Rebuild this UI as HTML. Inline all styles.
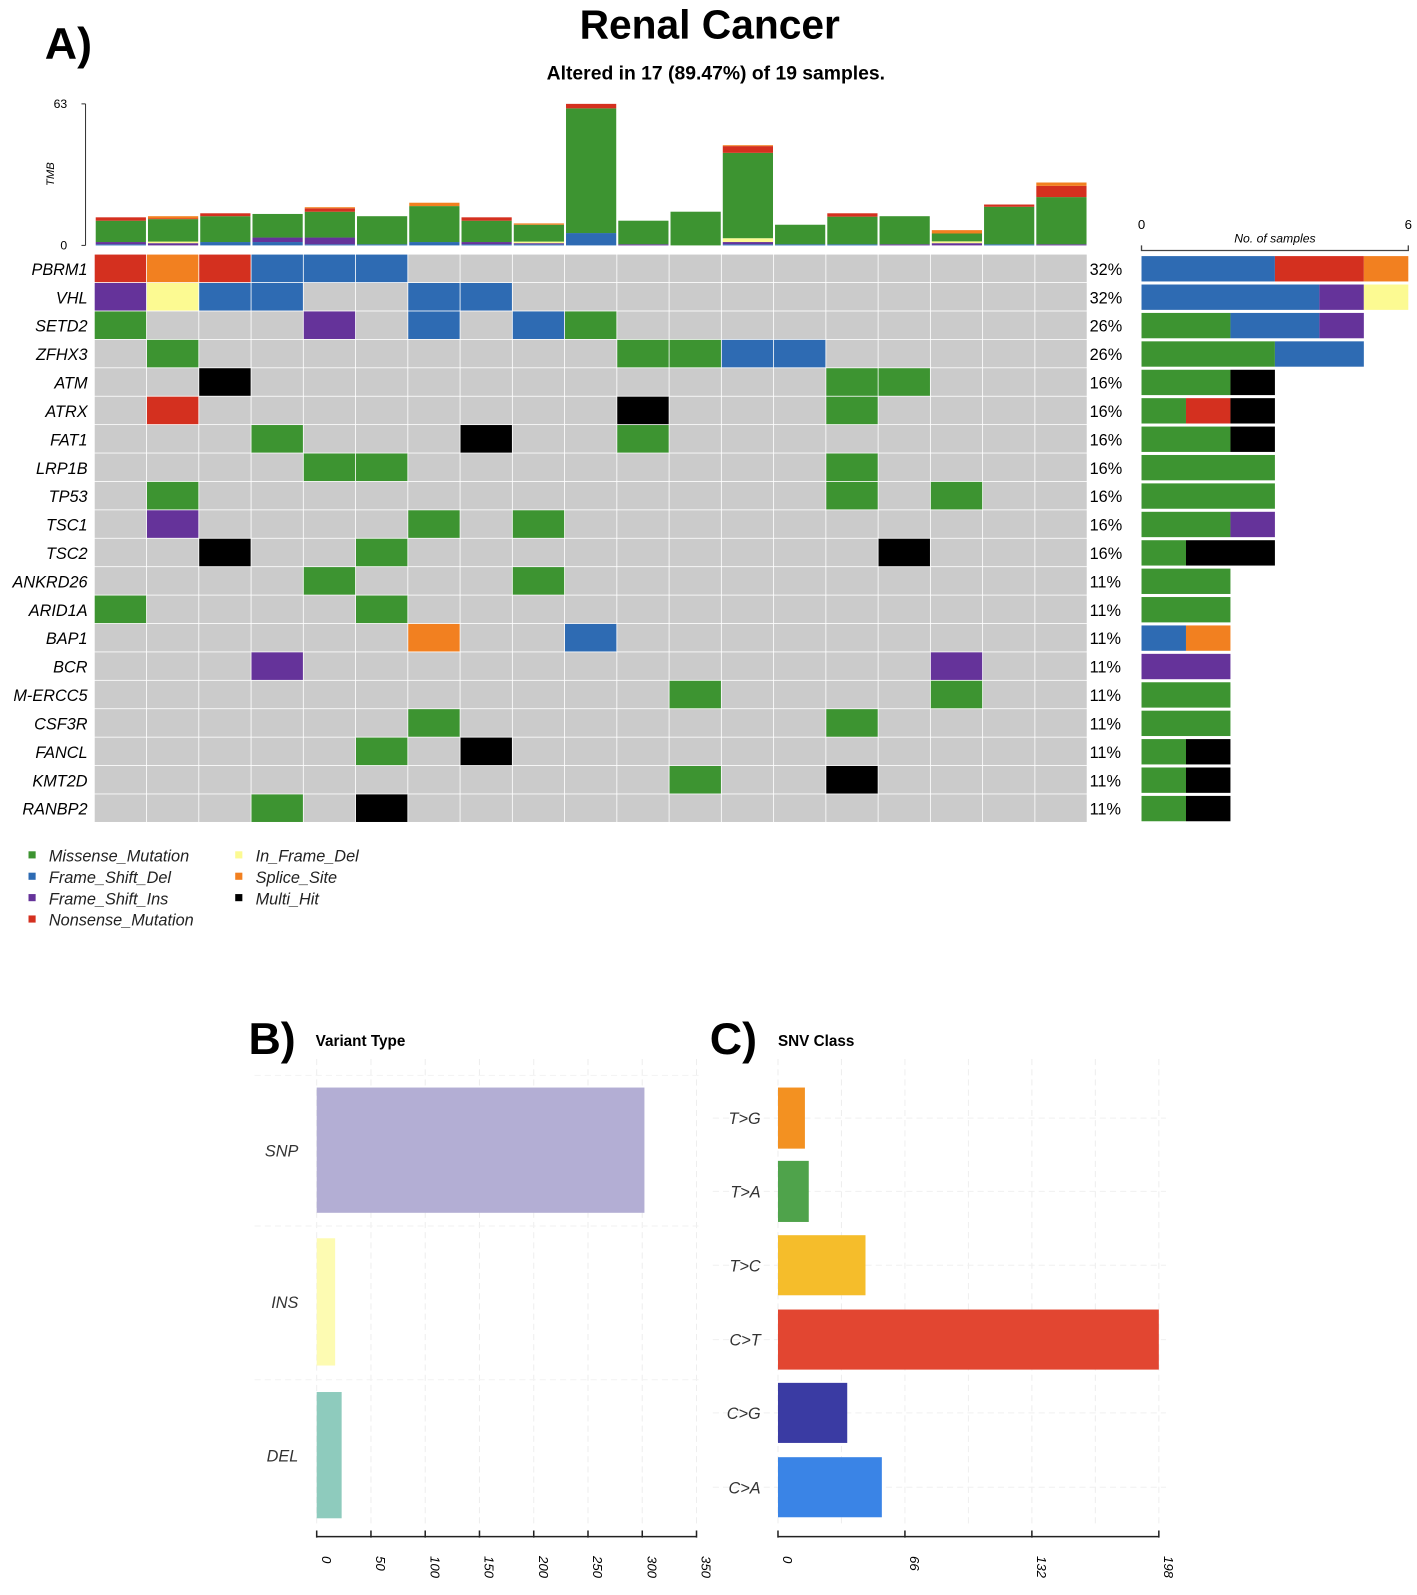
<!DOCTYPE html>
<html><head><meta charset="utf-8"><style>
html,body{margin:0;padding:0;background:#fff}
svg{display:block;font-family:"Liberation Sans",Arial,sans-serif}
</style></head><body>
<svg width="1417" height="1595" viewBox="0 0 1417 1595">
<g id="c" transform="scale(1.0183)">
<text x="44" y="58" font-size="44" font-weight="bold">A)</text>
<text x="697" y="38" font-size="40" font-weight="bold" text-anchor="middle">Renal Cancer</text>
<text x="703" y="78" font-size="19" font-weight="bold" text-anchor="middle">Altered in 17 (89.47%) of 19 samples.</text>
<text x="244" y="1035" font-size="44" font-weight="bold">B)</text>
<text x="310" y="1027" font-size="15" font-weight="bold">Variant Type</text>
<text x="697" y="1035" font-size="44" font-weight="bold">C)</text>
<text x="764" y="1027" font-size="15" font-weight="bold">SNV Class</text>
</g>
</svg>
<script>
// ---------- data ----------
const types = ["Missense_Mutation","Frame_Shift_Del","Frame_Shift_Ins","Nonsense_Mutation","In_Frame_Del","Splice_Site","Multi_Hit"];
const typeCodes = ["M","D","I","N","F","S","X"];
const typeColors = ["#3d9431","#2e6bb3","#65339a","#d4301f","#fcfa92","#f28020","#000000"];
// TMB stacks per sample (order: M, D, I, N, F, S)
const tmbMissense = [9.5,10,11.5,10.5,11.5,12.5,16,9.5,7.5,55.5,10.5,15,38,8.7,12.3,12.5,3.5,16.7,21];
const tmbDel      = [0.5,0,1.5,1.5,0.5,0.5,1.5,0.5,0.5,5.5,0,0,0.5,0.5,0.5,0,0,0.5,0];
const tmbIns      = [1,1,0,2,3,0,0,1,0.5,0,0.5,0,1,0,0,0.5,1,0,0.5];
const tmbNonsense = [1.5,0.3,1.3,0,1.5,0,0,1.5,0,2,0,0,3,0,1.5,0,0,1,5];
const tmbInframe  = [0,0.7,0,0,0,0,0,0,0.7,0,0,0,1.7,0,0,0,0.8,0,0];
const tmbSplice   = [0,1,0,0,0.5,0,1.5,0,0.6,0,0,0,0.4,0,0,0,1.5,0,1.5];
const tmbMax = 63;
const genes = ["PBRM1","VHL","SETD2","ZFHX3","ATM","ATRX","FAT1","LRP1B","TP53","TSC1","TSC2","ANKRD26","ARID1A","BAP1","BCR","M-ERCC5","CSF3R","FANCL","KMT2D","RANBP2"];
const genePct = ["32%","32%","26%","26%","16%","16%","16%","16%","16%","16%","16%","11%","11%","11%","11%","11%","11%","11%","11%","11%"];
// "col:code" per gene
const geneMuts = [
 ["0:N","1:S","2:N","3:D","4:D","5:D"],
 ["0:I","1:F","2:D","3:D","6:D","7:D"],
 ["0:M","4:I","6:D","8:D","9:M"],
 ["1:M","10:M","11:M","12:D","13:D"],
 ["2:X","14:M","15:M"],
 ["1:N","10:X","14:M"],
 ["3:M","7:X","10:M"],
 ["4:M","5:M","14:M"],
 ["1:M","14:M","16:M"],
 ["1:I","6:M","8:M"],
 ["2:X","5:M","15:X"],
 ["4:M","8:M"],
 ["0:M","5:M"],
 ["6:S","9:D"],
 ["3:I","16:I"],
 ["11:M","16:M"],
 ["6:M","14:M"],
 ["5:M","7:X"],
 ["11:M","14:X"],
 ["3:M","5:X"]
];
const sideOrder = ["M","D","N","I","F","S","X"];
const sampleCount = 19;
const sideMax = 6;
// Panel B
const vtCats = ["SNP","INS","DEL"];
const vtVals = [302,17,23];
const vtColors = ["#b3aed4","#fdfbb2","#8ecbbd"];
const vtTicks = [0,50,100,150,200,250,300,350];
// Panel C
const snvCats = ["T>G","T>A","T>C","C>T","C>G","C>A"];
const snvVals = [14,16,45.5,198,36,54];
const snvColors = ["#f39121","#4fa34b","#f5bd2b","#e24631","#3a3ba3","#3a84e6"];
const snvTicks = [0,66,132,198];

// ---------- drawing ----------
const svg = document.getElementById('c');
const NS = "http://www.w3.org/2000/svg";
function mk(tag, attrs, parent){const e=document.createElementNS(NS,tag);for(const k in attrs)e.setAttribute(k,attrs[k]);(parent||svg).appendChild(e);return e;}
const colorOf = c => typeColors[typeCodes.indexOf(c)];

const gx0=93, gx1=1068, gy0=250, gy1=808;
const cw=(gx1-gx0)/sampleCount, rh=(gy1-gy0)/genes.length;
const xCol = i => gx0 + i*cw;
const yRow = i => gy0 + i*rh;

const tBase=241, tTop=102;
const yT = v => tBase - v/tmbMax*(tBase-tTop);
let a=mk('line',{x1:84,y1:yT(0),x2:84,y2:yT(tmbMax),stroke:'#333','stroke-width':1});


[0,tmbMax].forEach(v=>{
  mk('line',{x1:80,y1:yT(v),x2:84,y2:yT(v),stroke:'#333'});
  const t=mk('text',{x:66,y:yT(v)+4,'font-size':12,'text-anchor':'end'});t.textContent=v;
  
  
});
let tl=mk('text',{x:0,y:0,'font-size':11,'font-style':'italic','text-anchor':'middle',transform:'translate(53,171) rotate(-90)'});tl.textContent='TMB';


const tmbSeries=[[tmbDel,"D"],[tmbIns,"I"],[tmbInframe,"F"],[tmbMissense,"M"],[tmbNonsense,"N"],[tmbSplice,"S"]];
for(let i=0;i<sampleCount;i++){
  let cum=0;
  tmbSeries.forEach(([arr,code])=>{
    const v=arr[i]; if(!v) return;
    const r=mk('rect',{x:xCol(i)+1,y:yT(cum+v),width:cw-2,height:yT(cum)-yT(cum+v),fill:colorOf(code)});
    
    
    cum+=v;
  });
}

for(let g=0;g<genes.length;g++){
  const muts={};geneMuts[g].forEach(s=>{const [c,k]=s.split(':');muts[+c]=k;});
  for(let i=0;i<sampleCount;i++){
    const r=mk('rect',{x:xCol(i),y:yRow(g),width:cw-0.8,height:rh-0.8,fill:muts[i]?colorOf(muts[i]):'#cbcbcb'});
    
    
  }
  const gl=mk('text',{x:86,y:yRow(g)+rh/2+6,'font-size':16,'font-style':'italic','text-anchor':'end'});gl.textContent=genes[g];
  
  
  const pl=mk('text',{x:1070,y:yRow(g)+rh/2+6,'font-size':16});pl.textContent=genePct[g];
  
  
}

const sx0=1121, sx1=1383;
const xS = v => sx0 + v/sideMax*(sx1-sx0);
let sa=mk('path',{d:`M${sx0},241 V246 H${sx1} V241`,stroke:'#444',fill:'none','stroke-width':1.3});


[[0,sx0],[sideMax,sx1]].forEach(([v,x])=>{const t=mk('text',{x:x,y:225,'font-size':13,'text-anchor':'middle'});t.textContent=v;
  
  });
let st=mk('text',{x:1252,y:238,'font-size':12,'font-style':'italic','text-anchor':'middle'});st.textContent='No. of samples';


for(let g=0;g<genes.length;g++){
  const counts={};geneMuts[g].forEach(s=>{const k=s.split(':')[1];counts[k]=(counts[k]||0)+1;});
  let cum=0;
  sideOrder.forEach(k=>{
    if(!counts[k])return;
    const r=mk('rect',{x:xS(cum),y:yRow(g)+1.5,width:xS(cum+counts[k])-xS(cum),height:rh-3,fill:colorOf(k)});
    
    
    cum+=counts[k];
  });
}

const legPos=[[28,840],[28,861],[28,882],[28,903],[231,840],[231,861],[231,882]];
const legOrder=["M","D","I","N","F","S","X"];
legOrder.forEach((k,i)=>{
  const [x,y]=legPos[i];const idx=typeCodes.indexOf(k);
  const r=mk('rect',{x:x,y:y-4,width:7,height:7,fill:typeColors[idx]});
  
  
  const t=mk('text',{x:x+20,y:y+6,'font-size':16,'font-style':'italic',fill:'#222'});t.textContent=types[idx];
  
  
});

const bx0=311,bx1=684,bAxisY=1509;
const xB = v => bx0 + v/350*(bx1-bx0);
const bRows=[[1068,1191],[1216,1341],[1367,1491]];
vtTicks.forEach(v=>{mk('line',{x1:xB(v),y1:1040,x2:xB(v),y2:1500,stroke:'#eee','stroke-dasharray':'6,4'});});
bRows.forEach(([y0,y1])=>{mk('line',{x1:250,y1:y0-12,x2:690,y2:y0-12,stroke:'#f2f2f2','stroke-dasharray':'6,4'});});
vtCats.forEach((c,i)=>{
  const [y0,y1]=bRows[i];
  const r=mk('rect',{x:bx0,y:y0,width:xB(vtVals[i])-bx0,height:y1-y0,fill:vtColors[i]});
  
  
  const t=mk('text',{x:293,y:(y0+y1)/2+6,'font-size':16,'font-style':'italic','text-anchor':'end',fill:'#333'});t.textContent=c;
  
  
});
let ba=mk('line',{x1:bx0,y1:bAxisY,x2:bx1,y2:bAxisY,stroke:'#222','stroke-width':1.5});


vtTicks.forEach(v=>{
  mk('line',{x1:xB(v),y1:bAxisY-6,x2:xB(v),y2:bAxisY+1,stroke:'#222','stroke-width':1.5});
  const t=mk('text',{x:0,y:0,'font-size':13,'font-style':'italic',transform:`translate(${xB(v)+5},1528) rotate(90)`});t.textContent=v;
  
  
});

const cx0=764,cx1=1138,cAxisY=1509;
const xC = v => cx0 + v/198*(cx1-cx0);
const cRows=[[1068,1128],[1140,1200],[1213,1272],[1286,1345],[1358,1417],[1431,1490]];
[0,33,66,99,132,165,198].forEach(v=>{mk('line',{x1:xC(v),y1:1040,x2:xC(v),y2:1500,stroke:'#eee','stroke-dasharray':'6,4'});});
cRows.forEach(([y0,y1])=>{mk('line',{x1:700,y1:(y0+y1)/2,x2:1145,y2:(y0+y1)/2,stroke:'#f0f0f0','stroke-dasharray':'6,4'});});
snvCats.forEach((c,i)=>{
  const [y0,y1]=cRows[i];
  const r=mk('rect',{x:cx0,y:y0,width:xC(snvVals[i])-cx0,height:y1-y0,fill:snvColors[i]});
  
  
  const t=mk('text',{x:747,y:(y0+y1)/2+6,'font-size':16,'font-style':'italic','text-anchor':'end',fill:'#333'});t.textContent=c;
  
  
});
let ca=mk('line',{x1:cx0,y1:cAxisY,x2:cx1,y2:cAxisY,stroke:'#222','stroke-width':1.5});


snvTicks.forEach(v=>{
  mk('line',{x1:xC(v),y1:cAxisY-6,x2:xC(v),y2:cAxisY+1,stroke:'#222','stroke-width':1.5});
  const t=mk('text',{x:0,y:0,'font-size':13,'font-style':'italic',transform:`translate(${xC(v)+5},1528) rotate(90)`});t.textContent=v;
  
  
});
</script>
</body></html>
